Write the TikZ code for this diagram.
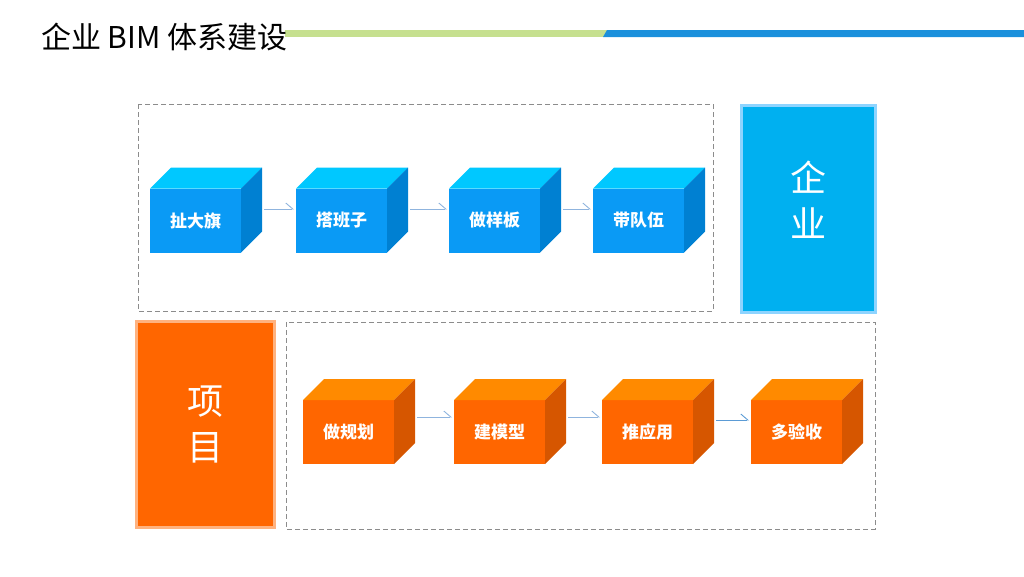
\documentclass[tikz,border=0pt]{standalone}
\usepackage{fontspec}
\setmainfont{Noto Sans CJK SC}
\usetikzlibrary{arrows.meta}
\definecolor{bfront}{HTML}{0A9AF5}
\definecolor{btop}{HTML}{00C8FF}
\definecolor{bside}{HTML}{0080D2}
\definecolor{ofront}{HTML}{FF6600}
\definecolor{otop}{HTML}{FF8A00}
\definecolor{oside}{HTML}{D65600}
\definecolor{entfill}{HTML}{00B0F0}
\definecolor{entline}{HTML}{8ED4FF}
\definecolor{prjline}{HTML}{FFB27F}
\definecolor{dashgray}{HTML}{8C8C8C}
\definecolor{arrowblue}{HTML}{8FB4DE}
\definecolor{arrowdark}{HTML}{5B9BD5}
\definecolor{bargreen}{HTML}{C6E08F}
\definecolor{barblue}{HTML}{1A90DC}
\tikzset{
  front/.style={minimum width=91pt,minimum height=64pt,inner sep=0pt,outer sep=0pt,
    text=white,font=\bfseries\fontsize{17}{17}\selectfont},
  dashbox/.style={draw=dashgray,dash pattern=on 5pt off 3pt,line width=1pt},
  flow/.style={draw=arrowblue,line width=0.9pt,-{Straight Barb[left,length=7pt,width=12pt]}},
  bigbox/.style={line width=3pt,inner sep=0pt,outer sep=0pt,text=white,
    font=\fontsize{36}{46}\selectfont,align=center},
}
\newcommand\drawcube[3]{% name, top color, side color
  \fill[#2] (#1.north west) -- ([xshift=21pt,yshift=21pt]#1.north west) -- ([xshift=21pt,yshift=21pt]#1.north east) -- (#1.north east) -- cycle;
  \fill[#3] (#1.north east) -- ([xshift=21pt,yshift=21pt]#1.north east) -- ([xshift=21pt,yshift=21pt]#1.south east) -- (#1.south east) -- cycle;
}
\begin{document}
\begin{tikzpicture}[x=1pt,y=-1pt]
\useasboundingbox (0,0) rectangle (1024,576);
% title bars
\fill[bargreen] (285,30) rectangle (607,37);
\fill[barblue] (607,30) -- (1024,30) -- (1024,37) -- (603,37) -- cycle;
\node[anchor=west,inner sep=0pt,font=\fontsize{30}{30}\selectfont] (title) at (41,37) {企业 BIM 体系建设};
% dashed frames
\draw[dashbox] (138,104) rectangle (713,311);
\draw[dashbox] (286,322) rectangle (875,529);
% big boxes
\node[bigbox,draw=entline,fill=entfill,minimum width=134pt,minimum height=207pt] (ent) at (808,208.5) {};
\node[text=white,font=\fontsize{36}{46}\selectfont,align=center] (entlabel) at (808,200) {企\\业};
\node[bigbox,draw=prjline,fill=ofront,minimum width=138pt,minimum height=206pt] (prj) at (205,424) {项\\目};
% top cubes
\node[front,fill=bfront] (c1) at (195.5,220.5) {扯大旗};
\node[front,fill=bfront] (c2) at (341.5,220.5) {搭班子};
\node[front,fill=bfront] (c3) at (494.5,220.5) {做样板};
\node[front,fill=bfront] (c4) at (638.5,220.5) {带队伍};
\foreach \c in {c1,c2,c3,c4}{\drawcube{\c}{btop}{bside}}
% bottom cubes
\node[front,fill=ofront] (d1) at (348.5,432) {做规划};
\node[front,fill=ofront] (d2) at (499.5,432) {建模型};
\node[front,fill=ofront] (d3) at (647.5,432) {推应用};
\node[front,fill=ofront] (d4) at (796.5,432) {多验收};
\foreach \c in {d1,d2,d3,d4}{\drawcube{\c}{otop}{oside}}
% connectors
\draw[flow] ([xshift=23pt,yshift=11.5pt]c1.east) -- ([xshift=-2pt,yshift=11.5pt]c2.west);
\draw[flow] ([xshift=23pt,yshift=11.5pt]c2.east) -- ([xshift=-2pt,yshift=11.5pt]c3.west);
\draw[flow] ([xshift=23pt,yshift=11.5pt]c3.east) -- ([xshift=-2pt,yshift=11.5pt]c4.west);
\draw[flow] ([xshift=23pt,yshift=15pt]d1.east) -- ([xshift=-2pt,yshift=15pt]d2.west);
\draw[flow] ([xshift=23pt,yshift=15pt]d2.east) -- ([xshift=-2pt,yshift=15pt]d3.west);
\draw[flow,draw=arrowdark] ([xshift=23pt,yshift=12pt]d3.east) -- ([xshift=-2pt,yshift=12pt]d4.west);
\end{tikzpicture}
\end{document}
